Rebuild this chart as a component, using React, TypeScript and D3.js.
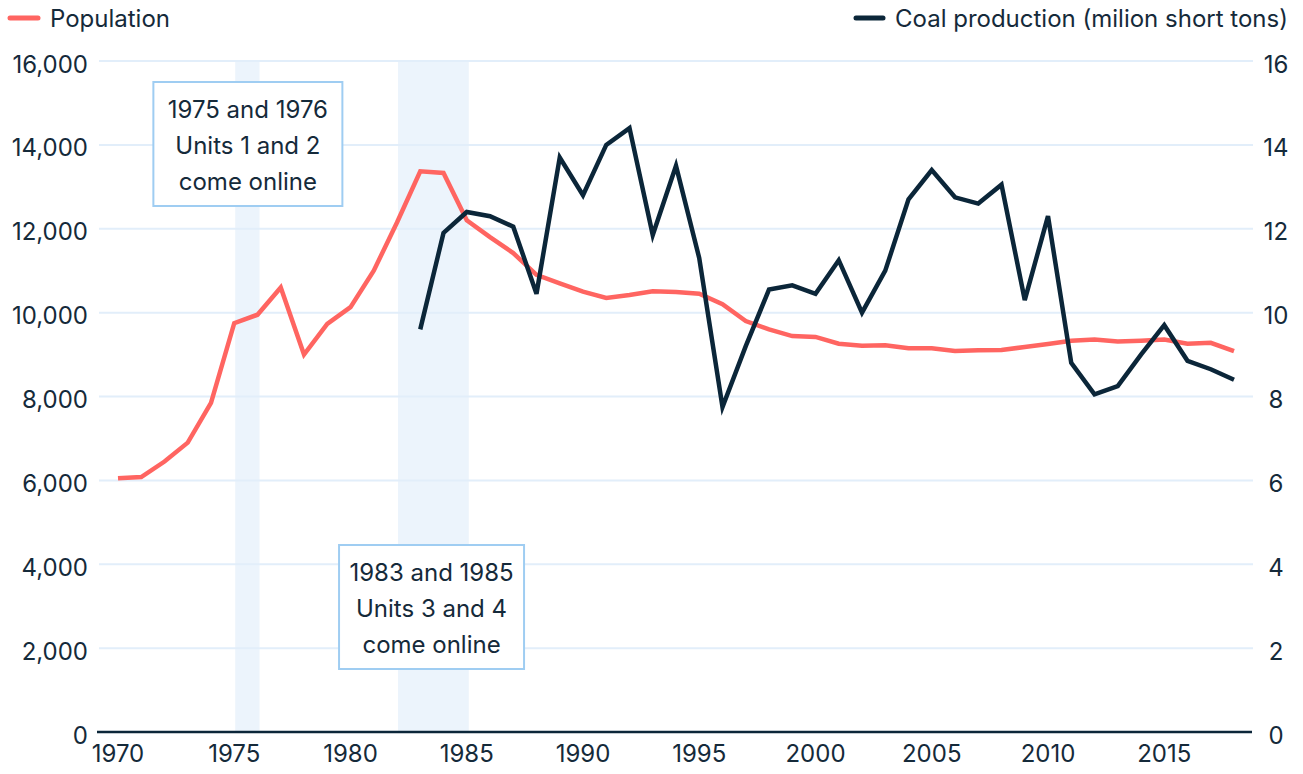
import React, { useEffect, useRef } from 'react';
import * as d3 from 'd3';

// Population by year (left axis)
const popYears = d3.range(1970, 2019);
const population = [
  6050, 6080, 6450, 6900, 7850, 9750, 9950, 10600, 9000, 9730,
  10130, 11000, 12150, 13370, 13330, 12200, 11800, 11420, 10900, 10700,
  10500, 10350, 10420, 10510, 10490, 10450, 10200, 9800, 9600, 9440,
  9420, 9260, 9210, 9220, 9150, 9150, 9085, 9100, 9110, 9180,
  9250, 9330, 9360, 9310, 9330, 9360, 9260, 9280, 9080,
];

// Coal production, million short tons (right axis)
const coalYears = d3.range(1983, 2019);
const coal = [
  9.6, 11.9, 12.4, 12.3, 12.05, 10.45, 13.7, 12.8, 14.0, 14.4,
  11.85, 13.5, 11.3, 7.75, 9.2, 10.55, 10.65, 10.45, 11.25, 10.0,
  11.0, 12.7, 13.4, 12.75, 12.6, 13.05, 10.3, 12.3, 8.8, 8.05,
  8.25, 9.0, 9.7, 8.85, 8.65, 8.4,
];

const xTicks = [1970, 1975, 1980, 1985, 1990, 1995, 2000, 2005, 2010, 2015];
const leftTicks = [0, 2000, 4000, 6000, 8000, 10000, 12000, 14000, 16000];
const rightTicks = [0, 2, 4, 6, 8, 10, 12, 14, 16];

// shaded periods when units came online
const bands = [[1975, 1976], [1982, 1985]];
const notes = [
  { lines: ['1975 and 1976', 'Units 1 and 2', 'come online'], at: 1975.5 },
  { lines: ['1983 and 1985', 'Units 3 and 4', 'come online'], at: 1983.4 },
];

const RED = '#ff6561';
const NAVY = '#0b2639';
const TEXT = '#152a3a';
const GRID = '#e2eefa';
const BAND = '#ecf4fc';
const FONT = 'Inter, Roboto, sans-serif';
const FS = 24;

const App = () => {
  const ref = useRef<SVGSVGElement>(null);

  useEffect(() => {
    const svg = d3.select(ref.current);
    svg.selectAll('*').remove();

    const width = 1303, height = 774;
    const x = d3.scaleLinear().domain([1970, 2018]).range([118, 1234]);
    const yL = d3.scaleLinear().domain([0, 16000]).range([732, 61]);
    const yR = d3.scaleLinear().domain([0, 16]).range([732, 61]);

    svg.attr('width', width).attr('height', height)
      .style('font-family', FONT);

    // bands
    svg.append('g').selectAll('rect').data(bands).enter().append('rect')
      .attr('x', d => x(d[0]) + 1)
      .attr('width', d => x(d[1]) - x(d[0]) + 1)
      .attr('y', yL(16000))
      .attr('height', yL(0) - yL(16000))
      .attr('fill', BAND);

    // grid
    svg.append('g').selectAll('line').data(leftTicks.filter(t => t > 0)).enter().append('line')
      .attr('x1', 99).attr('x2', 1253)
      .attr('y1', d => yL(d)).attr('y2', d => yL(d))
      .attr('stroke', GRID).attr('stroke-width', 2);

    // baseline
    svg.append('line')
      .attr('x1', 97).attr('x2', 1252)
      .attr('y1', yL(0)).attr('y2', yL(0))
      .attr('stroke', NAVY).attr('stroke-width', 2.5);

    // left axis labels
    svg.append('g').selectAll('text').data(leftTicks).enter().append('text')
      .attr('x', 88).attr('y', d => yL(d) + 3)
      .attr('text-anchor', 'end').attr('dominant-baseline', 'central')
      .attr('font-size', FS).attr('fill', TEXT)
      .text(d => d3.format(',')(d));

    // right axis labels
    svg.append('g').selectAll('text').data(rightTicks).enter().append('text')
      .attr('x', 1276).attr('y', d => yR(d) + 3)
      .attr('text-anchor', 'middle').attr('dominant-baseline', 'central')
      .attr('font-size', FS).attr('fill', TEXT)
      .text(d => d);

    // x labels
    svg.append('g').selectAll('text').data(xTicks).enter().append('text')
      .attr('x', d => x(d)).attr('y', 753)
      .attr('text-anchor', 'middle').attr('dominant-baseline', 'central')
      .attr('font-size', FS).attr('fill', TEXT)
      .text(d => d);

    // lines
    const popLine = d3.line<number>()
      .x((d, i) => x(popYears[i]))
      .y(d => yL(d));
    svg.append('path').datum(population)
      .attr('d', popLine)
      .attr('fill', 'none').attr('stroke', RED)
      .attr('stroke-width', 4.5).attr('stroke-linejoin', 'miter');

    const coalLine = d3.line<number>()
      .x((d, i) => x(coalYears[i]))
      .y(d => yR(d));
    svg.append('path').datum(coal)
      .attr('d', coalLine)
      .attr('fill', 'none').attr('stroke', NAVY)
      .attr('stroke-width', 4.5).attr('stroke-linejoin', 'miter');

    // annotation boxes
    const boxTops = [82, 545];
    notes.forEach((n, k) => {
      const cx = x(n.at) + 2;
      const bw = k === 0 ? 189 : 185;
      const g = svg.append('g');
      g.append('rect')
        .attr('x', cx - bw / 2).attr('y', boxTops[k])
        .attr('width', bw).attr('height', 124)
        .attr('fill', '#fff').attr('stroke', '#9fcdf2').attr('stroke-width', 2);
      n.lines.forEach((t, j) => {
        g.append('text')
          .attr('x', cx).attr('y', boxTops[k] + 27 + j * 36)
          .attr('text-anchor', 'middle').attr('dominant-baseline', 'central')
          .attr('font-size', FS).attr('fill', TEXT)
          .text(t);
      });
    });

    // legend
    svg.append('line').attr('x1', 10).attr('x2', 38).attr('y1', 18).attr('y2', 18)
      .attr('stroke', RED).attr('stroke-width', 5).attr('stroke-linecap', 'round');
    svg.append('text').attr('x', 50).attr('y', 18)
      .attr('dominant-baseline', 'central').attr('font-size', FS).attr('fill', TEXT)
      .text('Population');
    svg.append('line').attr('x1', 856).attr('x2', 883).attr('y1', 18).attr('y2', 18)
      .attr('stroke', NAVY).attr('stroke-width', 5).attr('stroke-linecap', 'round');
    svg.append('text').attr('x', 895).attr('y', 18)
      .attr('dominant-baseline', 'central').attr('font-size', FS).attr('fill', TEXT)
      .text('Coal production (milion short tons)');
  }, []);

  return (
    <div style={{ position: 'absolute', left: 0, top: 0 }}>
      <svg ref={ref} />
    </div>
  );
};

export default App;
